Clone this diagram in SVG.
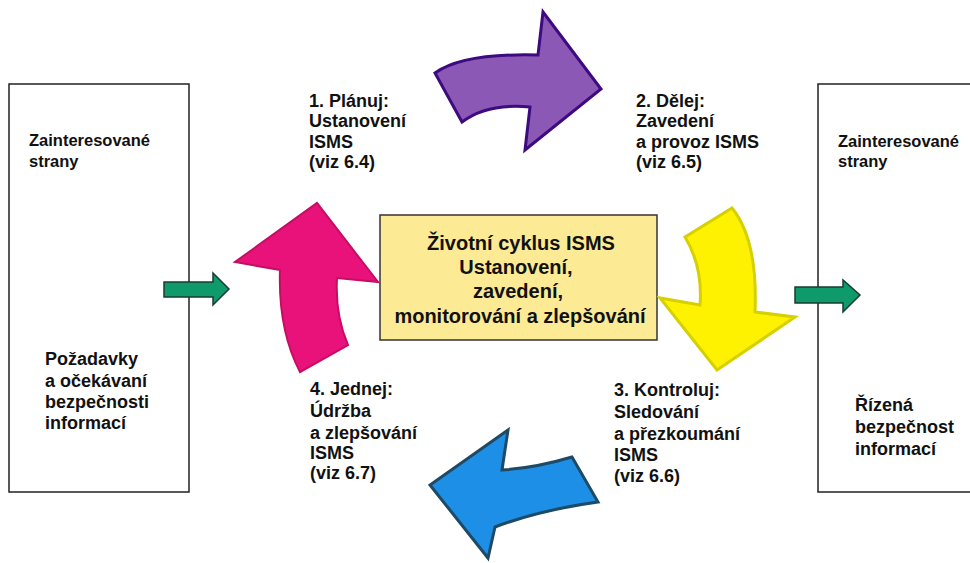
<svg xmlns="http://www.w3.org/2000/svg" width="970" height="563" viewBox="0 0 970 563">
<style>
text{font-family:"Liberation Sans",Arial,sans-serif;font-weight:bold;fill:#111}
.lab{font-size:18px}
.sm{font-size:16.5px}
.big{font-size:18px}
.ctr{font-size:20px;text-anchor:middle}
.box{fill:#fff;stroke:#222;stroke-width:1.5}
.green{fill:#0e9a6a;stroke:#1b3d2e;stroke-width:1.5}
</style>
<rect width="970" height="563" fill="#fff"/>
<g id="left-party">
<rect class="box" x="9" y="84" width="180" height="408"/>
<text class="sm" x="29" y="146">Zainteresované</text>
<text class="sm" x="29" y="167">strany</text>
<text class="big" x="45" y="365">Požadavky</text>
<text class="big" x="45" y="387">a očekávaní</text>
<text class="big" x="45" y="408">bezpečnosti</text>
<text class="big" x="45" y="429">informací</text>
</g>
<g id="right-party">
<rect class="box" x="818" y="84" width="160" height="408"/>
<text class="sm" x="838" y="147">Zainteresované</text>
<text class="sm" x="838" y="167">strany</text>
<text class="big" x="855" y="411">Řízená</text>
<text class="big" x="855" y="433">bezpečnost</text>
<text class="big" x="855" y="455">informací</text>
</g>
<g id="center">
<rect x="380" y="215" width="277" height="125" fill="#fcea94" stroke="#333" stroke-width="1.5"/>
<text class="ctr" x="521" y="250">Životní cyklus ISMS</text>
<text class="ctr" x="516" y="274">Ustanovení,</text>
<text class="ctr" x="518" y="298">zavedení,</text>
<text class="ctr" x="520" y="323">monitorování a zlepšování</text>
</g>
<g id="plan">
<path d="M435,73 Q463,53 538,55 L543,12 L601,89 L525,150 L530,107 Q487,103 462,122 Z" fill="#8b58b5" stroke="#3d0a80" stroke-width="3"/>
<text class="lab" x="309" y="107">1. Plánuj:</text>
<text class="lab" x="309" y="127">Ustanovení</text>
<text class="lab" x="309" y="148">ISMS</text>
<text class="lab" x="309" y="168">(viz 6.4)</text>
</g>
<g id="do">
<path d="M685,237 L732,208 Q758,240 755,312 L795,317 L717,370 L660,298 L700,305 Q703,267 685,237 Z" fill="#fff200" stroke="#d6d000" stroke-width="3"/>
<text class="lab" x="636" y="107">2. Dělej:</text>
<text class="lab" x="636" y="127">Zavedení</text>
<text class="lab" x="636" y="148">a provoz ISMS</text>
<text class="lab" x="636" y="168">(viz 6.5)</text>
</g>
<g id="check">
<path d="M598,502 Q540,510 495,527 L488,558 L430,485 L508,430 L502,470 Q535,468 572,457 Z" fill="#1e8fe6" stroke="#1f4a66" stroke-width="3"/>
<text class="lab" x="614" y="396">3. Kontroluj:</text>
<text class="lab" x="614" y="418">Sledování</text>
<text class="lab" x="614" y="440">a přezkoumání</text>
<text class="lab" x="614" y="461">ISMS</text>
<text class="lab" x="614" y="482">(viz 6.6)</text>
</g>
<g id="act">
<path d="M300,372 Q278,330 280,270 L235,262 L317,203 L378,282 L337,278 Q335,315 348,345 Z" fill="#e8127a" stroke="#c50e62" stroke-width="2"/>
<text class="lab" x="310" y="395">4. Jednej:</text>
<text class="lab" x="310" y="417">Údržba</text>
<text class="lab" x="310" y="439">a zlepšování</text>
<text class="lab" x="310" y="459">ISMS</text>
<text class="lab" x="310" y="479">(viz 6.7)</text>
</g>
<g id="connectors">
<path class="green" d="M164,282 L213,282 L213,273 L229,289 L213,305 L213,297 L164,297 Z"/>
<path class="green" d="M795,287 L843,287 L843,280 L860,295 L843,312 L843,303 L795,303 Z"/>
</g>
</svg>
